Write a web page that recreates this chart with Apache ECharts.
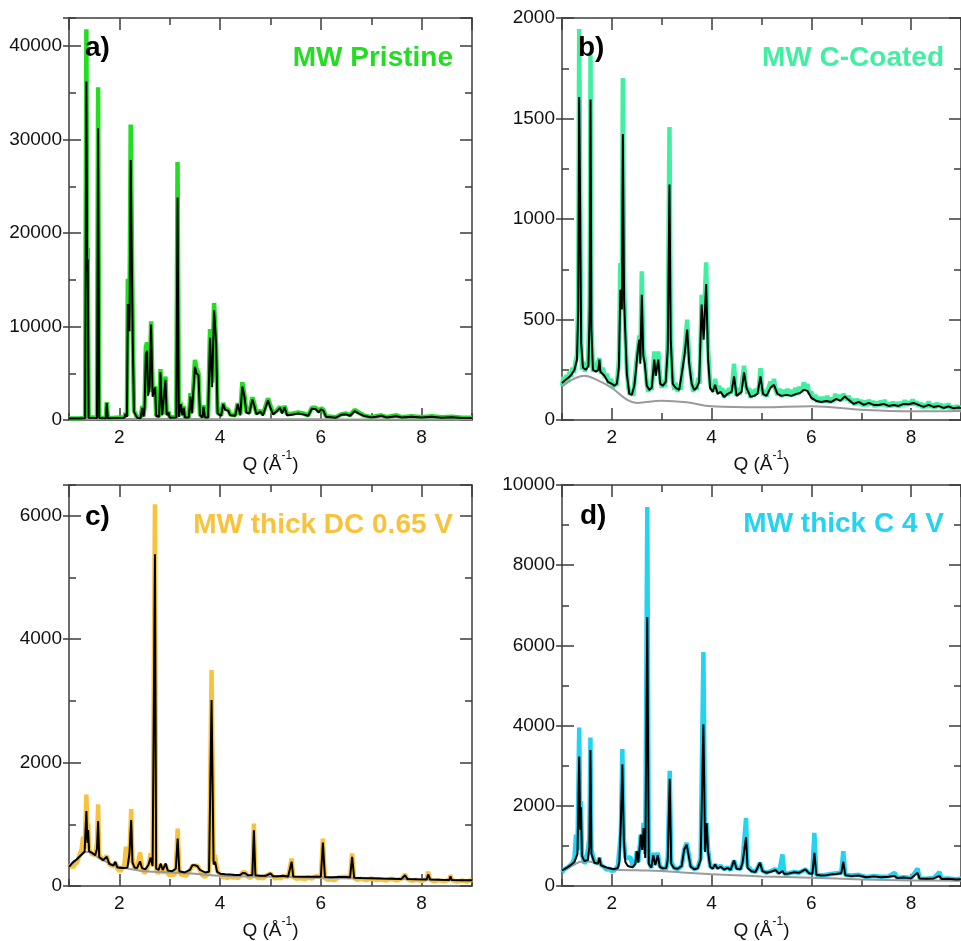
<!DOCTYPE html>
<html>
<head>
<meta charset="utf-8">
<script src="https://cdn.jsdelivr.net/npm/echarts@6/dist/echarts.min.js"></script>
<style>
  html, body { margin: 0; padding: 0; background: #ffffff; }
  #chart { width: 961px; height: 941px; }
</style>
</head>
<body>
<div id="chart"></div>
<script>
// ---- (a) MW Pristine : measured pattern, fit and background, [Q, intensity]
const obsA = [[1.00,150],[1.20,160],[1.32,250],[1.345,41800],[1.36,17000],[1.372,18400],[1.39,300],[1.555,250],[1.578,35600],[1.60,250],[1.73,200],[1.75,1900],[1.77,200],[2.10,300],[2.125,750],[2.15,400],[2.168,15100],[2.20,11000],[2.225,31600],[2.265,9760],[2.29,1000],[2.32,900],[2.35,300],[2.42,200],[2.455,1500],[2.48,400],[2.50,1500],[2.525,7800],[2.55,8300],[2.57,3000],[2.60,4000],[2.63,10550],[2.66,3000],[2.71,3600],[2.73,500],[2.79,400],[2.815,5440],[2.85,600],[2.915,4650],[2.94,600],[2.975,900],[3.00,300],[3.13,300],[3.155,27600],[3.18,400],[3.22,1860],[3.25,600],[3.28,1500],[3.30,300],[3.38,300],[3.41,2860],[3.44,800],[3.50,6440],[3.53,5500],[3.57,5040],[3.60,600],[3.65,300],[3.67,1600],[3.70,300],[3.76,300],[3.80,9730],[3.84,4000],[3.88,12520],[3.92,8000],[3.95,800],[4.02,500],[4.06,1820],[4.10,1200],[4.16,1100],[4.20,600],[4.30,500],[4.35,1800],[4.40,600],[4.44,4040],[4.48,2800],[4.52,900],[4.58,800],[4.64,2430],[4.68,1700],[4.72,700],[4.80,1000],[4.85,600],[4.95,2320],[5.00,1500],[5.05,700],[5.12,1000],[5.19,1430],[5.23,800],[5.28,1500],[5.33,600],[5.45,700],[5.55,800],[5.65,700],[5.75,500],[5.82,1320],[5.90,1300],[5.96,900],[6.00,1250],[6.05,1100],[6.10,400],[6.30,300],[6.40,600],[6.50,700],[6.58,500],[6.67,1070],[6.75,800],[6.85,500],[7.00,300],[7.10,400],[7.20,500],[7.30,300],[7.50,500],[7.60,300],[7.80,400],[8.00,300],[8.20,400],[8.40,300],[8.60,350],[8.80,250],[9.00,250]];
const calcA = [[1.00,150],[1.20,150],[1.32,200],[1.345,36200],[1.36,16000],[1.372,17200],[1.39,250],[1.555,220],[1.578,31200],[1.60,220],[1.73,180],[1.75,1800],[1.77,180],[2.10,250],[2.125,650],[2.15,350],[2.168,12400],[2.20,9500],[2.225,27800],[2.265,8600],[2.29,900],[2.32,800],[2.35,250],[2.42,180],[2.455,1300],[2.48,350],[2.50,1200],[2.525,7000],[2.55,7400],[2.57,2600],[2.60,3500],[2.63,10200],[2.66,2500],[2.71,3500],[2.73,450],[2.79,350],[2.815,5100],[2.85,500],[2.915,4300],[2.94,500],[2.975,800],[3.00,250],[3.13,280],[3.155,23800],[3.18,350],[3.22,1700],[3.25,500],[3.28,1300],[3.30,280],[3.38,280],[3.41,2500],[3.44,700],[3.50,5690],[3.53,5000],[3.57,4800],[3.60,500],[3.65,280],[3.67,1400],[3.70,280],[3.76,280],[3.80,8800],[3.84,3500],[3.88,11730],[3.92,8260],[3.95,700],[4.02,450],[4.06,1700],[4.10,1100],[4.16,1000],[4.20,500],[4.30,450],[4.35,1700],[4.40,500],[4.44,3580],[4.48,2600],[4.52,800],[4.58,700],[4.64,2200],[4.68,1500],[4.72,600],[4.80,900],[4.85,500],[4.95,2100],[5.00,1300],[5.05,600],[5.12,900],[5.19,1300],[5.23,700],[5.28,1350],[5.33,500],[5.45,600],[5.55,700],[5.65,600],[5.75,450],[5.82,1200],[5.90,1150],[5.96,800],[6.00,1150],[6.05,1000],[6.10,350],[6.30,250],[6.40,550],[6.50,600],[6.58,450],[6.67,950],[6.75,700],[6.85,450],[7.00,280],[7.10,350],[7.20,450],[7.30,280],[7.50,400],[7.60,280],[7.80,350],[8.00,280],[8.20,350],[8.40,250],[8.60,300],[8.80,220],[9.00,220]];
const bgA = [[1,80],[2,110],[3,100],[4,90],[5,80],[6,70],[7,60],[8,55],[9,50]];

// ---- (b) MW C-Coated
const obsB = [[1.00,170],[1.03,215],[1.06,180],[1.09,225],[1.12,195],[1.15,240],[1.18,215],[1.21,260],[1.24,235],[1.27,290],[1.30,320],[1.325,600],[1.345,1945],[1.365,1121],[1.385,400],[1.40,250],[1.43,290],[1.46,240],[1.49,280],[1.52,260],[1.555,600],[1.572,1815],[1.59,500],[1.62,240],[1.65,285],[1.68,240],[1.71,280],[1.75,308],[1.78,230],[1.82,260],[1.86,210],[1.90,230],[1.94,180],[1.98,205],[2.02,160],[2.06,185],[2.10,170],[2.14,300],[2.17,781],[2.20,600],[2.22,1701],[2.245,700],[2.265,474],[2.30,250],[2.33,160],[2.36,125],[2.40,150],[2.43,120],[2.45,180],[2.48,267],[2.52,350],[2.55,420],[2.57,300],[2.60,740],[2.63,350],[2.66,300],[2.70,180],[2.73,140],[2.76,175],[2.80,150],[2.85,341],[2.88,250],[2.93,341],[2.97,200],[3.00,160],[3.03,195],[3.06,165],[3.09,210],[3.12,400],[3.155,1458],[3.18,450],[3.22,200],[3.25,150],[3.28,185],[3.32,140],[3.35,175],[3.38,150],[3.42,280],[3.46,350],[3.51,499],[3.55,300],[3.60,200],[3.63,140],[3.66,175],[3.70,150],[3.73,210],[3.76,180],[3.80,623],[3.84,450],[3.89,784],[3.93,350],[3.97,180],[4.00,150],[4.02,165],[4.05,140],[4.07,205],[4.10,160],[4.12,140],[4.15,170],[4.18,135],[4.21,160],[4.25,110],[4.28,150],[4.32,120],[4.35,160],[4.38,130],[4.41,170],[4.45,280],[4.48,150],[4.50,120],[4.53,160],[4.56,125],[4.60,170],[4.65,270],[4.68,190],[4.72,130],[4.75,160],[4.78,110],[4.82,150],[4.85,115],[4.88,155],[4.92,130],[4.95,170],[4.98,258],[5.01,160],[5.04,120],[5.07,150],[5.10,115],[5.14,160],[5.18,190],[5.22,160],[5.25,205],[5.28,150],[5.32,125],[5.36,155],[5.40,115],[5.44,150],[5.48,120],[5.52,155],[5.56,120],[5.60,150],[5.64,120],[5.68,160],[5.72,125],[5.76,165],[5.80,140],[5.85,188],[5.89,150],[5.92,180],[5.96,130],[6.00,140],[6.04,100],[6.08,125],[6.12,90],[6.16,115],[6.20,85],[6.24,115],[6.28,90],[6.32,120],[6.36,85],[6.40,110],[6.44,90],[6.48,130],[6.52,100],[6.56,125],[6.60,95],[6.64,130],[6.67,138],[6.71,100],[6.75,120],[6.79,85],[6.83,105],[6.87,75],[6.91,105],[6.95,80],[6.99,100],[7.03,70],[7.07,95],[7.11,70],[7.15,100],[7.19,75],[7.23,95],[7.27,65],[7.31,90],[7.35,70],[7.39,95],[7.43,70],[7.47,100],[7.51,65],[7.55,85],[7.59,65],[7.63,90],[7.67,68],[7.71,88],[7.75,62],[7.79,90],[7.83,70],[7.87,98],[7.91,72],[7.95,92],[7.99,75],[8.03,102],[8.07,75],[8.11,92],[8.15,68],[8.19,85],[8.23,60],[8.27,80],[8.31,62],[8.35,92],[8.39,62],[8.43,80],[8.47,58],[8.51,85],[8.55,65],[8.59,80],[8.63,55],[8.67,78],[8.71,58],[8.75,82],[8.79,55],[8.83,70],[8.87,50],[8.91,72],[8.95,55],[9.00,70]];
const calcB = [[1.00,184],[1.05,195],[1.10,205],[1.15,215],[1.20,230],[1.25,250],[1.30,300],[1.325,550],[1.345,1607],[1.365,1016],[1.385,380],[1.42,260],[1.48,250],[1.53,270],[1.555,550],[1.572,1594],[1.59,450],[1.62,250],[1.68,240],[1.73,250],[1.75,300],[1.77,240],[1.85,220],[1.92,190],[2.00,180],[2.05,170],[2.10,180],[2.14,260],[2.17,648],[2.20,550],[2.22,1423],[2.245,600],[2.265,460],[2.30,230],[2.35,130],[2.40,126],[2.45,170],[2.48,240],[2.52,350],[2.55,400],[2.57,280],[2.60,623],[2.63,320],[2.66,280],[2.70,170],[2.75,150],[2.80,160],[2.85,300],[2.88,220],[2.93,300],[2.97,180],[3.02,170],[3.08,190],[3.12,350],[3.155,1171],[3.18,400],[3.22,180],[3.28,160],[3.35,150],[3.42,260],[3.46,330],[3.51,450],[3.55,280],[3.60,180],[3.65,150],[3.70,160],[3.75,190],[3.80,574],[3.84,400],[3.89,677],[3.93,300],[3.97,160],[4.02,140],[4.07,175],[4.12,130],[4.18,140],[4.25,115],[4.32,130],[4.40,140],[4.45,217],[4.50,120],[4.55,130],[4.60,140],[4.65,237],[4.70,160],[4.78,115],[4.85,120],[4.92,130],[4.98,217],[5.03,130],[5.10,120],[5.18,160],[5.25,175],[5.32,130],[5.40,120],[5.50,125],[5.60,120],[5.70,130],[5.78,135],[5.85,150],[5.92,145],[6.00,110],[6.10,95],[6.20,90],[6.30,95],[6.40,90],[6.50,105],[6.58,95],[6.67,117],[6.75,100],[6.85,80],[6.95,90],[7.05,75],[7.15,85],[7.25,75],[7.35,75],[7.45,80],[7.55,70],[7.65,75],[7.75,70],[7.85,80],[7.95,78],[8.05,85],[8.15,75],[8.25,65],[8.35,75],[8.45,65],[8.55,70],[8.65,60],[8.75,68],[8.85,58],[8.95,62],[9.00,60]];
const bgB = [[1.0,167],[1.2,200],[1.45,220],[1.7,200],[2.0,159],[2.3,101],[2.5,85],[3.0,96],[3.5,88],[4.0,68],[5.0,63],[6.0,68],[7.0,51],[8.0,43],[9.0,45]];

// ---- (c) MW thick DC 0.65 V
const obsC = [[1.00,300],[1.04,340],[1.08,300],[1.12,350],[1.16,380],[1.20,480],[1.25,600],[1.28,798],[1.31,600],[1.345,1484],[1.365,900],[1.38,1014],[1.40,600],[1.45,520],[1.52,500],[1.555,700],[1.578,1322],[1.60,500],[1.68,420],[1.75,490],[1.80,350],[1.88,320],[1.92,380],[1.96,280],[2.01,240],[2.05,270],[2.10,350],[2.13,636],[2.16,350],[2.20,500],[2.235,1246],[2.26,400],[2.30,300],[2.35,280],[2.41,543],[2.45,300],[2.49,210],[2.53,240],[2.58,350],[2.62,527],[2.66,350],[2.706,6188],[2.73,300],[2.76,200],[2.79,240],[2.82,350],[2.86,200],[2.92,350],[2.96,200],[3.00,170],[3.05,200],[3.09,170],[3.12,300],[3.157,932],[3.19,250],[3.23,170],[3.27,200],[3.31,160],[3.36,200],[3.40,250],[3.45,330],[3.50,330],[3.55,330],[3.60,250],[3.65,170],[3.70,150],[3.74,180],[3.78,230],[3.83,3500],[3.87,400],[3.90,500],[3.94,250],[4.00,180],[4.05,140],[4.10,150],[4.15,125],[4.20,170],[4.25,130],[4.30,150],[4.35,125],[4.40,160],[4.45,230],[4.50,220],[4.55,150],[4.60,130],[4.64,180],[4.67,1014],[4.70,170],[4.75,125],[4.80,140],[4.85,120],[4.90,160],[5.00,203],[5.05,150],[5.10,120],[5.15,140],[5.20,120],[5.25,160],[5.35,150],[5.42,446],[5.45,150],[5.52,115],[5.60,130],[5.68,110],[5.75,140],[5.82,120],[5.90,160],[6.00,150],[6.04,770],[6.08,130],[6.14,100],[6.20,110],[6.27,95],[6.35,140],[6.50,150],[6.58,140],[6.62,527],[6.66,130],[6.72,100],[6.80,120],[6.90,95],[7.00,125],[7.10,95],[7.20,110],[7.30,90],[7.40,120],[7.50,90],[7.60,115],[7.67,190],[7.72,110],[7.80,85],[7.90,100],[8.00,80],[8.10,110],[8.13,230],[8.17,100],[8.25,75],[8.35,95],[8.45,75],[8.55,100],[8.57,175],[8.60,95],[8.70,70],[8.80,90],[8.90,70],[9.00,100]];
const calcC = [[1.00,311],[1.05,360],[1.10,400],[1.15,430],[1.20,470],[1.25,510],[1.28,540],[1.31,560],[1.345,1214],[1.365,700],[1.38,905],[1.40,560],[1.45,540],[1.52,500],[1.555,600],[1.578,1051],[1.60,470],[1.68,420],[1.75,473],[1.80,360],[1.88,330],[1.92,392],[1.96,300],[2.05,290],[2.10,290],[2.13,320],[2.16,300],[2.20,527],[2.235,1068],[2.26,380],[2.30,300],[2.35,290],[2.41,400],[2.45,290],[2.52,270],[2.58,350],[2.62,460],[2.66,320],[2.706,5377],[2.73,280],[2.78,260],[2.82,365],[2.86,260],[2.92,365],[2.96,250],[3.05,240],[3.12,280],[3.157,770],[3.19,240],[3.30,220],[3.40,260],[3.45,338],[3.50,338],[3.55,320],[3.60,260],[3.70,220],[3.78,230],[3.83,3014],[3.87,350],[3.90,392],[3.94,230],[4.00,200],[4.10,190],[4.20,185],[4.30,180],[4.40,180],[4.45,210],[4.50,205],[4.55,175],[4.64,180],[4.67,905],[4.70,175],[4.80,165],[4.90,165],[5.00,203],[5.05,160],[5.15,160],[5.25,165],[5.35,155],[5.42,392],[5.45,155],[5.60,150],[5.75,150],[5.90,150],[6.00,150],[6.04,705],[6.08,145],[6.20,140],[6.35,145],[6.50,145],[6.58,140],[6.62,473],[6.66,135],[6.80,130],[7.00,125],[7.20,120],[7.40,118],[7.60,115],[7.67,175],[7.72,112],[7.90,108],[8.10,105],[8.13,187],[8.17,104],[8.35,100],[8.55,98],[8.57,154],[8.60,96],[8.80,94],[9.00,92]];
const bgC = [[1.0,311],[1.15,420],[1.3,540],[1.38,555],[1.5,510],[1.6,446],[1.8,370],[2.0,311],[2.25,270],[2.5,240],[3.0,219],[3.5,200],[4.0,165],[5.0,149],[6.0,133],[7.0,120],[8.0,105],[9.0,90]];

// ---- (d) MW thick C 4 V
const obsD = [[1.00,340],[1.04,410],[1.08,380],[1.12,470],[1.16,480],[1.20,560],[1.25,700],[1.28,1282],[1.31,900],[1.345,3950],[1.365,1500],[1.38,2111],[1.40,800],[1.45,560],[1.49,640],[1.52,600],[1.55,1200],[1.57,3701],[1.59,900],[1.65,600],[1.72,560],[1.75,703],[1.78,520],[1.85,470],[1.90,400],[1.95,440],[2.00,370],[2.05,390],[2.12,500],[2.15,910],[2.18,1300],[2.21,3418],[2.24,1200],[2.27,700],[2.32,700],[2.37,720],[2.42,500],[2.47,600],[2.50,869],[2.53,600],[2.58,1282],[2.61,1000],[2.635,1572],[2.67,800],[2.71,9454],[2.74,600],[2.79,450],[2.83,828],[2.87,550],[2.92,828],[2.96,500],[3.02,430],[3.06,380],[3.09,450],[3.12,700],[3.16,2872],[3.19,600],[3.25,450],[3.32,420],[3.40,500],[3.45,910],[3.50,1076],[3.54,800],[3.58,500],[3.65,420],[3.72,450],[3.78,700],[3.835,5837],[3.87,900],[3.90,1572],[3.93,900],[3.97,500],[4.02,450],[4.07,537],[4.12,450],[4.18,500],[4.25,420],[4.32,460],[4.38,400],[4.45,637],[4.50,450],[4.58,430],[4.62,600],[4.69,1697],[4.72,500],[4.80,380],[4.88,350],[4.97,579],[5.02,380],[5.10,330],[5.20,380],[5.28,420],[5.35,320],[5.42,786],[5.46,300],[5.55,320],[5.65,350],[5.75,330],[5.88,414],[5.95,330],[6.02,320],[6.06,1324],[6.10,280],[6.20,260],[6.30,280],[6.40,300],[6.50,320],[6.60,330],[6.64,869],[6.68,280],[6.80,260],[6.95,280],[7.10,220],[7.25,250],[7.40,230],[7.55,240],[7.67,331],[7.72,200],[7.85,220],[8.00,200],[8.13,438],[8.17,190],[8.30,180],[8.45,200],[8.57,348],[8.61,180],[8.75,190],[8.90,170],[9.00,180]];
const calcD = [[1.00,390],[1.05,420],[1.10,460],[1.15,500],[1.20,550],[1.25,600],[1.28,700],[1.31,800],[1.345,3229],[1.365,1400],[1.38,1962],[1.40,750],[1.45,620],[1.52,650],[1.55,1000],[1.57,3394],[1.59,800],[1.65,580],[1.72,560],[1.75,703],[1.78,520],[1.85,480],[1.95,440],[2.05,420],[2.12,450],[2.15,600],[2.18,1572],[2.21,3038],[2.24,1158],[2.27,600],[2.32,500],[2.37,480],[2.42,470],[2.47,550],[2.50,869],[2.53,580],[2.58,1282],[2.61,900],[2.635,1448],[2.67,700],[2.71,6707],[2.74,550],[2.79,460],[2.83,770],[2.87,520],[2.92,770],[2.96,480],[3.02,440],[3.09,450],[3.12,650],[3.16,2673],[3.19,550],[3.25,440],[3.32,430],[3.40,500],[3.45,910],[3.50,1030],[3.54,750],[3.58,480],[3.65,420],[3.72,440],[3.78,650],[3.835,4031],[3.87,850],[3.90,1572],[3.93,850],[3.97,480],[4.02,430],[4.07,537],[4.12,430],[4.18,480],[4.25,410],[4.32,450],[4.38,400],[4.45,637],[4.50,430],[4.58,420],[4.62,580],[4.69,1217],[4.72,450],[4.80,370],[4.88,350],[4.97,579],[5.02,370],[5.10,330],[5.20,360],[5.28,400],[5.35,310],[5.42,373],[5.46,300],[5.55,310],[5.65,340],[5.75,330],[5.88,414],[5.95,320],[6.02,300],[6.06,828],[6.10,280],[6.20,260],[6.30,270],[6.40,290],[6.50,300],[6.60,320],[6.64,604],[6.68,270],[6.80,250],[6.95,260],[7.10,220],[7.25,240],[7.40,220],[7.55,230],[7.67,250],[7.72,200],[7.85,210],[8.00,195],[8.13,331],[8.17,185],[8.30,180],[8.45,190],[8.57,250],[8.61,175],[8.75,180],[8.90,165],[9.00,170]];
const bgD = [[1.0,388],[1.2,500],[1.35,600],[1.5,620],[1.7,560],[2.0,413],[2.5,390],[3.0,373],[3.5,330],[4.0,290],[5.0,240],[6.0,207],[7.0,165],[8.0,140],[9.0,130]];

// ---- panel labels and axis settings
const panelLetters = ['a)', 'b)', 'c)', 'd)'];
const panelTitles = ['MW Pristine', 'MW C-Coated', 'MW thick DC 0.65 V', 'MW thick C 4 V'];
const panelColors = ['#22dd22', '#3ef0a0', '#f8c23c', '#22d3f2'];
const yMaxes = [43000, 2000, 6500, 10000];
const ySteps = [10000, 500, 2000, 2000];
const qRange = [1, 9];

const FONT = '"Liberation Sans", Arial, Helvetica, sans-serif';
const FRAME = '#3c3c3c';

const grids = [
  { left: 69, top: 18, width: 403, height: 402 },
  { left: 562, top: 18, width: 403, height: 402 },
  { left: 69, top: 485, width: 403, height: 403 },
  { left: 562, top: 485, width: 403, height: 403 }
];
const obsSets = [obsA, obsB, obsC, obsD];
const calcSets = [calcA, calcB, calcC, calcD];
const bgSets = [bgA, bgB, bgC, bgD];
const letterPos = [[85, 48], [578, 48], [85, 517], [580, 516]];
const titlePos = [[453, 58], [944, 58], [453, 525], [944, 524]];

const xAxes = [], yAxes = [], series = [], graphics = [];
const tickLine = { color: FRAME, width: 1.5 };

grids.forEach((g, i) => {
  // bottom axis with labels and name
  xAxes.push({
    gridIndex: i, type: 'value', position: 'bottom', min: qRange[0], max: qRange[1],
    axisLine: { show: true, onZero: false, lineStyle: { color: FRAME, width: 1.5 } },
    axisTick: { show: true, inside: true, length: 12, lineStyle: tickLine },
    axisLabel: { show: true, margin: 8, color: '#111', fontSize: 19, fontFamily: FONT,
                 showMinLabel: false, showMaxLabel: false },
    splitLine: { show: false },
    name: '{n|Q (Å}{s|-1}{n|)}', nameLocation: 'middle', nameGap: 30,
    nameTextStyle: { rich: {
      n: { fontSize: 19, fontFamily: FONT, color: '#111', verticalAlign: 'bottom', lineHeight: 24 },
      s: { fontSize: 12, fontFamily: FONT, color: '#111', verticalAlign: 'top', lineHeight: 24 }
    } }
  });
  // bottom minor ticks
  xAxes.push({
    gridIndex: i, type: 'value', position: 'bottom', min: qRange[0], max: qRange[1], interval: 1,
    axisLine: { show: false, onZero: false }, axisLabel: { show: false }, splitLine: { show: false },
    axisTick: { show: true, inside: true, length: 7, lineStyle: tickLine }
  });
  // top frame
  xAxes.push({
    gridIndex: i, type: 'value', position: 'top', min: qRange[0], max: qRange[1],
    axisLine: { show: true, onZero: false, lineStyle: { color: FRAME, width: 1.5 } },
    axisTick: { show: true, inside: true, length: 12, lineStyle: tickLine },
    axisLabel: { show: false }, splitLine: { show: false }
  });
  xAxes.push({
    gridIndex: i, type: 'value', position: 'top', min: qRange[0], max: qRange[1], interval: 1,
    axisLine: { show: false, onZero: false }, axisLabel: { show: false }, splitLine: { show: false },
    axisTick: { show: true, inside: true, length: 7, lineStyle: tickLine }
  });

  const yMax = yMaxes[i], step = ySteps[i];
  // left axis with labels
  yAxes.push({
    gridIndex: i, type: 'value', position: 'left', min: 0, max: yMax, interval: step,
    axisLine: { show: true, onZero: false, lineStyle: { color: FRAME, width: 1.5 } },
    axisTick: { show: true, inside: true, length: 12, lineStyle: tickLine },
    axisLabel: { show: true, margin: 7, color: '#111', fontSize: 19, fontFamily: FONT,
                 showMaxLabel: yMax % step === 0, formatter: v => String(v) },
    splitLine: { show: false }
  });
  // short outward ticks on the left
  yAxes.push({
    gridIndex: i, type: 'value', position: 'left', min: 0, max: yMax, interval: step,
    axisLine: { show: false, onZero: false }, axisLabel: { show: false }, splitLine: { show: false },
    axisTick: { show: true, inside: false, length: 6, lineStyle: tickLine }
  });
  // left minor ticks
  yAxes.push({
    gridIndex: i, type: 'value', position: 'left', min: 0, max: yMax, interval: step / 2,
    axisLine: { show: false, onZero: false }, axisLabel: { show: false }, splitLine: { show: false },
    axisTick: { show: true, inside: true, length: 7, lineStyle: tickLine }
  });
  // right frame
  yAxes.push({
    gridIndex: i, type: 'value', position: 'right', min: 0, max: yMax, interval: step,
    axisLine: { show: true, onZero: false, lineStyle: { color: FRAME, width: 1.5 } },
    axisTick: { show: true, inside: true, length: 12, lineStyle: tickLine },
    axisLabel: { show: false }, splitLine: { show: false }
  });
  yAxes.push({
    gridIndex: i, type: 'value', position: 'right', min: 0, max: yMax, interval: step / 2,
    axisLine: { show: false, onZero: false }, axisLabel: { show: false }, splitLine: { show: false },
    axisTick: { show: true, inside: true, length: 7, lineStyle: tickLine }
  });

  const xi = i * 4, yi = i * 5;
  series.push({
    type: 'line', xAxisIndex: xi, yAxisIndex: yi, data: obsSets[i], symbol: 'none',
    lineStyle: { color: panelColors[i], width: 4.5, join: 'bevel', cap: 'butt' }, z: 2
  });
  series.push({
    type: 'line', xAxisIndex: xi, yAxisIndex: yi, data: bgSets[i], symbol: 'none', smooth: 0.4,
    lineStyle: { color: '#9a9a9a', width: 2 }, z: 3
  });
  series.push({
    type: 'line', xAxisIndex: xi, yAxisIndex: yi, data: calcSets[i], symbol: 'none',
    lineStyle: { color: '#000000', width: 2, join: 'bevel' }, z: 4
  });

  graphics.push({
    type: 'text', x: letterPos[i][0], y: letterPos[i][1], z: 100,
    style: { text: panelLetters[i], font: 'bold 28px ' + FONT, fill: '#000',
             textAlign: 'left', textVerticalAlign: 'middle', align: 'left', verticalAlign: 'middle' }
  });
  graphics.push({
    type: 'text', x: titlePos[i][0], y: titlePos[i][1], z: 100,
    style: { text: panelTitles[i], font: 'bold 28px ' + FONT, fill: panelColors[i],
             textAlign: 'right', textVerticalAlign: 'middle', align: 'right', verticalAlign: 'middle' }
  });
});

const chart = echarts.init(document.getElementById('chart'), null, { renderer: 'canvas' });
chart.setOption({
  animation: false,
  backgroundColor: '#ffffff',
  textStyle: { fontFamily: FONT },
  grid: grids,
  xAxis: xAxes,
  yAxis: yAxes,
  series: series,
  graphic: graphics
});
</script>
</body>
</html>
